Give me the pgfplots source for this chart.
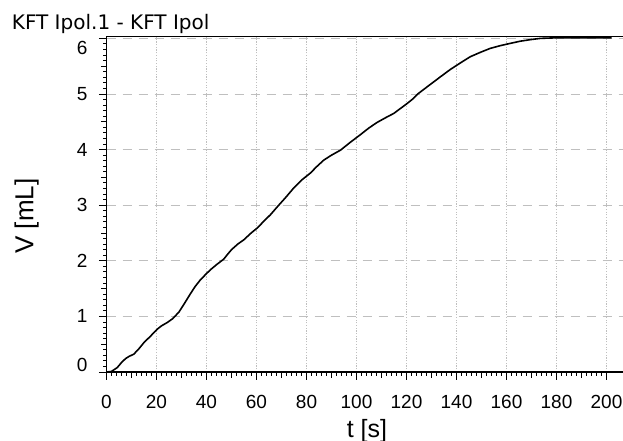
\documentclass[border=0pt]{standalone}
\usepackage{fontspec}
\setmainfont{Liberation Sans}
\newfontfamily\titlefont{DejaVu Sans}
\usepackage{pgfplots}
\pgfplotsset{compat=1.18}

\begin{document}
\begin{tikzpicture}[x=1pt,y=1pt]
\path[use as bounding box] (0,0) rectangle (623,-441);

\begin{axis}[
    at={(106.5pt,-372pt)}, anchor=south west,
    scale only axis,
    width=518pt, height=335.3pt,
    xmin=0, xmax=207.2,
    ymin=0, ymax=6.03,
    xtick={0,20,...,200},
    ytick={0,1,...,6},
    yticklabels={\raisebox{7pt}[\height][\depth]{0},1,2,3,4,5,\raisebox{-10pt}[\height][\depth]{6}},
    minor x tick num=9,
    minor y tick num=9,
    extra x ticks={10,30,...,190},
    extra x tick labels={},
    extra y ticks={0.5,1.5,...,5.5},
    extra y tick labels={},
    extra tick style={grid=none, major tick length=5.5pt},
    tick align=outside,
    xtick pos=bottom, ytick pos=left,
    major tick length=7.5pt, minor tick length=3.5pt,
    axis line style={line width=1.1pt},
    tick style={black, line width=0.9pt},
    xmajorgrids, ymajorgrids,
    x grid style={gray!50, line width=0.6pt, dash pattern=on 1.2pt off 1.5pt},
    y grid style={gray!50, line width=0.6pt, dash pattern=on 9pt off 7pt},
    /pgf/number format/assume math mode=true,
    tick label style={font=\fontsize{19}{21}\selectfont},
    yticklabel style={anchor=east, xshift=-8pt},
    xticklabel style={anchor=north, yshift=-12pt},
]
\addplot[black, line width=1.6pt] coordinates {
    (0,0) (2,0.01) (4.3,0.08) (6,0.17) (7.6,0.24) (9,0.28) (10.9,0.32)
    (13,0.42) (15,0.53) (17.5,0.64) (20.3,0.77) (22,0.83) (24.3,0.89)
    (26.5,0.96) (29,1.08) (31,1.22) (33.6,1.41) (35.5,1.54) (37.6,1.66)
    (40,1.77) (41.6,1.84) (44,1.93) (46.9,2.03) (48.5,2.12) (50,2.20)
    (52.5,2.30) (55,2.38) (57.6,2.49) (60.3,2.59) (62.9,2.71) (65.6,2.83)
    (68.3,2.97) (71.5,3.13) (74.9,3.31) (78,3.45) (81.6,3.58) (84,3.69)
    (86.9,3.81) (90,3.90) (93.6,3.99) (97.5,4.13) (101.6,4.27) (105,4.39)
    (108.3,4.49) (111.5,4.57) (114.9,4.65) (117.6,4.74) (120.3,4.83)
    (122.5,4.91) (124.5,5.0) (128,5.12) (133.6,5.31) (137.5,5.44)
    (141.6,5.56) (145.5,5.67) (149.6,5.75) (153.5,5.82) (157.6,5.87)
    (161.5,5.91) (165.6,5.95) (170,5.98) (173.6,6.0) (180,6.01)
    (190,6.01) (202,6.01)
};
\end{axis}

% title and axis labels
\node[anchor=base west, inner sep=0pt, font=\titlefont\fontsize{20}{22}\selectfont] at (11.7,-30) {KFT Ipol.1 - KFT Ipol};
\node[anchor=base, inner sep=0pt, font=\fontsize{25}{27}\selectfont] at (367,-437) {t [s]};
\node[anchor=base, rotate=90, inner sep=0pt, font=\fontsize{26}{28}\selectfont] at (33.3,-216) {V [mL]};
\end{tikzpicture}
\end{document}
